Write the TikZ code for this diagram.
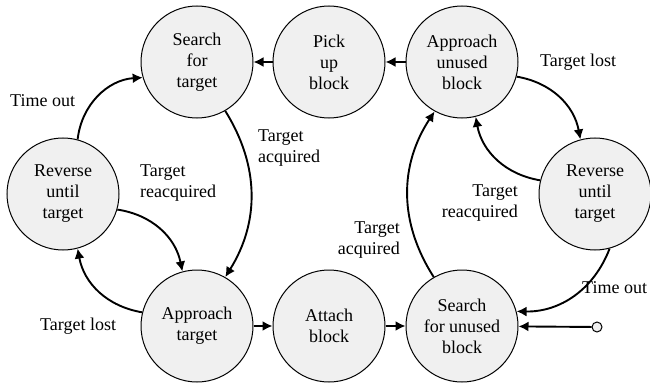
\documentclass[tikz,border=0pt]{standalone}
\usepackage{fontspec}
\setmainfont{Liberation Serif}
\usetikzlibrary{arrows.meta}
\definecolor{statefill}{RGB}{240,240,240}
\tikzset{
  state/.style={circle, draw, line width=1pt, fill=statefill, minimum size=112pt, inner sep=0pt, align=center, font=\fontsize{18}{21}\selectfont},
  lbl/.style={inner sep=0pt, font=\fontsize{18}{21}\selectfont},
  edge/.style={line width=1.9pt, -{Latex[length=10pt,width=10pt]}},
}
\begin{document}
\begin{tikzpicture}[x=1pt,y=-1pt]
\useasboundingbox (0,0) rectangle (650,385);
\node[state] (st) at (197,62) {Search\\for\\target};
\node[state] (pu) at (329,62) {Pick\\up\\block};
\node[state] (au) at (462,62) {Approach\\unused\\block};
\node[state] (rl) at (63,194) {Reverse\\until\\target};
\node[state] (rr) at (595,194) {Reverse\\until\\target};
\node[state] (at) at (197,326) {Approach\\target};
\node[state] (ab) at (329,326) {Attach\\block};
\node[state] (su) at (462,326) {Search\\for unused\\block};
\node[circle, draw, line width=1pt, fill=statefill, minimum size=10pt, inner sep=0pt] (start) at (597,327) {};

\draw[edge] (pu) -- (st);
\draw[edge] (au) -- (pu);
\draw[edge] (at) -- (ab);
\draw[edge] (ab) -- (su);
\draw[edge] (start) -- (su);

\draw[edge] (st.-60) to[bend left=32] (at.60);
\draw[edge] (rl.75) to[bend left=40] (st.196);
\draw[edge] (rl.-16) to[bend left=35] (at.105);
\draw[edge] (at.166) to[bend left=35] (rl.-75);
\draw[edge] (su.120) to[bend left=33] (au.-119);
\draw[edge] (au.-15) to[bend left=35] (rr.105);
\draw[edge] (rr.166) to[bend left=35] (au.-76);
\draw[edge] (rr.-75) to[bend left=35] (su.15);

\node[lbl, anchor=west] (l1) at (10,101) {Time out};
\node[lbl, anchor=west, align=left] (l2) at (258,148) {Target\\acquired};
\node[lbl, anchor=west, align=left] (l3) at (140,183) {Target\\reacquired};
\node[lbl, anchor=west] (l4) at (40,326) {Target lost};
\node[lbl, anchor=west] (l5) at (540,62) {Target lost};
\node[lbl, anchor=east, align=right] (l6) at (518,203) {Target\\reacquired};
\node[lbl, anchor=east, align=right] (l7) at (400,240) {Target\\acquired};
\node[lbl, anchor=west] (l8) at (582,288) {Time out};
\end{tikzpicture}
\end{document}
